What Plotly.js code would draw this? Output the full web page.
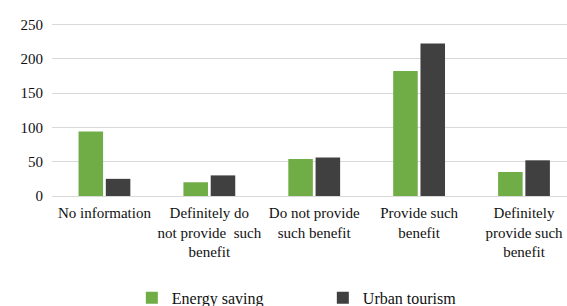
<!DOCTYPE html>
<html><head><meta charset="utf-8"><script src="https://cdn.plot.ly/plotly-3.0.1.min.js"></script></head>
<body style="margin:0">
<div id="c" style="width:567px;height:306px"></div>
<script>
const categories = [
  "No information",
  "Definitely do<br>not provide  such<br>benefit",
  "Do not provide<br>such benefit",
  "Provide such<br>benefit",
  "Definitely<br>provide such<br>benefit"
];
const energySaving = [94, 20, 54, 182, 35];
const urbanTourism = [25, 30, 56, 222, 52];
const seriesNames = ["Energy saving", "Urban tourism"];
const yTicks = [0, 50, 100, 150, 200, 250];

Plotly.newPlot("c", [
  {type: "bar", name: seriesNames[0], x: categories, y: energySaving, marker: {color: "#70ad47"}},
  {type: "bar", name: seriesNames[1], x: categories, y: urbanTourism, marker: {color: "#404040"}}
], {
  width: 567, height: 306,
  margin: {l: 52, r: 0, t: 23, b: 110, autoexpand: false},
  paper_bgcolor: "#ffffff", plot_bgcolor: "#ffffff",
  font: {family: "serif", size: 15, color: "#111111"},
  barmode: "group",
  bargap: 0.48,
  bargroupgap: 0.1,
  showlegend: true,
  legend: {
    orientation: "h", x: 0.155, xanchor: "left", y: -0.49, yanchor: "top",
    entrywidth: 146, entrywidthmode: "pixels", itemwidth: 30,
    font: {family: "Liberation Serif", size: 16, color: "#111111"},
    bgcolor: "rgba(0,0,0,0)"
  },
  xaxis: {
    range: [-0.5, 4.41],
    showgrid: false, zeroline: false, showline: false,
    ticks: "", tickangle: 0,
    ticklabelstandoff: 6,
    tickfont: {family: "Liberation Serif", size: 15, color: "#111111"},
    automargin: false
  },
  yaxis: {
    range: [0, 252],
    tickvals: yTicks,
    showgrid: true, gridcolor: "#d9d9d9", gridwidth: 1,
    zeroline: true, zerolinecolor: "#d9d9d9", zerolinewidth: 1,
    showline: false, ticks: "",
    ticklabelstandoff: 8,
    tickfont: {family: "Liberation Serif", size: 15, color: "#111111"},
    automargin: false
  }
}, {displayModeBar: false});
</script></body></html>
